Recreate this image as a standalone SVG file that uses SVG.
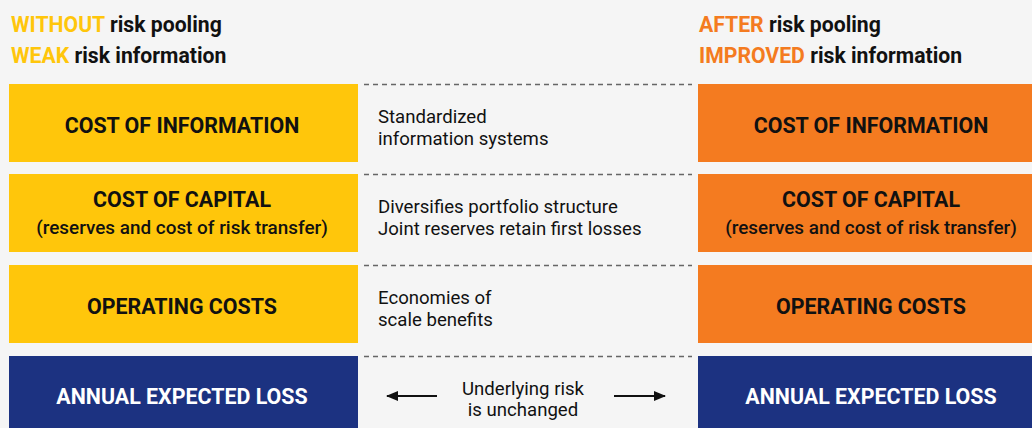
<svg xmlns="http://www.w3.org/2000/svg" width="1032" height="428" viewBox="0 0 1032 428">
<style>
.hdr{font-family:Roboto,"Liberation Sans",sans-serif;font-weight:bold;font-size:21.2px;fill:#111}
.y{fill:#FFC60B}.o{fill:#F47B20}
.box-y{fill:#FFC60B}.box-o{fill:#F47B20}.box-n{fill:#1C3281}
.t{font-family:Roboto,"Liberation Sans",sans-serif;font-weight:bold;font-size:21.4px;fill:#111;text-anchor:middle}
.s{font-family:Roboto,"Liberation Sans",sans-serif;font-weight:500;font-size:18.9px;fill:#111;text-anchor:middle}
.w{fill:#fff}
.m{font-family:Roboto,"Liberation Sans",sans-serif;font-size:18.6px;fill:#111}
.dash{stroke:#666;stroke-width:1.3;stroke-dasharray:5 4;fill:none}
.arr{stroke:#111;stroke-width:2;fill:none}
</style>
<defs>
<marker id="ah" markerWidth="12" markerHeight="10" refX="11" refY="5" orient="auto" markerUnits="userSpaceOnUse">
<path d="M0,0 L12,5 L0,10 Z" fill="#111"/>
</marker>
</defs>
<rect width="1032" height="428" fill="#F5F5F5"/>
<g id="header-left">
<text class="hdr" x="11" y="32"><tspan class="y">WITHOUT</tspan> risk pooling</text>
<text class="hdr" x="11" y="63"><tspan class="y">WEAK</tspan> risk information</text>
</g>
<g id="header-right">
<text class="hdr" x="699" y="32"><tspan class="o">AFTER</tspan> risk pooling</text>
<text class="hdr" x="699" y="63"><tspan class="o">IMPROVED</tspan> risk information</text>
</g>
<g id="left-info"><rect class="box-y" x="9" y="84" width="349" height="78"/><text class="t" x="182" y="133">COST OF INFORMATION</text></g>
<g id="left-capital"><rect class="box-y" x="9" y="174" width="349" height="78"/><text class="t" x="182" y="207">COST OF CAPITAL</text><text class="s" x="182" y="234">(reserves and cost of risk transfer)</text></g>
<g id="left-operating"><rect class="box-y" x="9" y="265" width="349" height="78"/><text class="t" x="182" y="314">OPERATING COSTS</text></g>
<g id="left-loss"><rect class="box-n" x="9" y="356" width="349" height="72"/><text class="t w" x="182" y="404">ANNUAL EXPECTED LOSS</text></g>
<g id="right-info"><rect class="box-o" x="698" y="84" width="334" height="78"/><text class="t" x="871" y="133">COST OF INFORMATION</text></g>
<g id="right-capital"><rect class="box-o" x="698" y="174" width="334" height="78"/><text class="t" x="871" y="207">COST OF CAPITAL</text><text class="s" x="871" y="234">(reserves and cost of risk transfer)</text></g>
<g id="right-operating"><rect class="box-o" x="698" y="265" width="334" height="78"/><text class="t" x="871" y="314">OPERATING COSTS</text></g>
<g id="right-loss"><rect class="box-n" x="698" y="356" width="334" height="72"/><text class="t w" x="871" y="404">ANNUAL EXPECTED LOSS</text></g>
<g id="mid-info"><text class="m" x="378" y="123">Standardized</text><text class="m" x="378" y="145">information systems</text></g>
<g id="mid-capital"><text class="m" x="378" y="213">Diversifies portfolio structure</text><text class="m" x="378" y="235">Joint reserves retain first losses</text></g>
<g id="mid-operating"><text class="m" x="378" y="304">Economies of</text><text class="m" x="378" y="326">scale benefits</text></g>
<g id="mid-loss"><text class="m" x="523" y="395" text-anchor="middle">Underlying risk</text><text class="m" x="523" y="416" text-anchor="middle">is unchanged</text></g>
<g id="connectors">
<line class="dash" x1="364" y1="84.5" x2="692" y2="84.5"/>
<line class="dash" x1="364" y1="174.5" x2="692" y2="174.5"/>
<line class="dash" x1="364" y1="265.5" x2="692" y2="265.5"/>
<line class="dash" x1="364" y1="356.5" x2="692" y2="356.5"/>
<line class="arr" x1="437" y1="396" x2="387" y2="396" marker-end="url(#ah)"/>
<line class="arr" x1="614" y1="396" x2="665" y2="396" marker-end="url(#ah)"/>
</g>
</svg>
